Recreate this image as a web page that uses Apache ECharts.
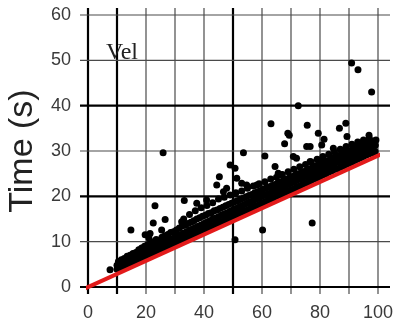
<!DOCTYPE html>
<html>
<head>
<meta charset="utf-8">
<script src="https://cdn.jsdelivr.net/npm/echarts@6/dist/echarts.min.js"></script>
<style>
  html, body { margin: 0; padding: 0; background: #fff; }
  #chart { width: 397px; height: 323px; }
</style>
</head>
<body>
<div id="chart"></div>
<script>
// Axis ranges and tick labels
const xTicks = [0, 20, 40, 60, 80, 100];
const yTicks = [0, 10, 20, 30, 40, 50, 60];
// Grid lines (every 10 units); the heavy ones are drawn thicker
const xGridLines = [0, 10, 20, 30, 40, 50, 60, 70, 80, 90, 100];
const yGridLines = [0, 10, 20, 30, 40, 50, 60];
const heavyX = [0, 10, 50];
const heavyY = [0, 20, 40];

// Measured times: dense band of runs
const bandPoints = [
  [10,3.9],[10,4.8],[10.5,5.6],[11,4.2],[11,5.2],[11.5,6.0],[12,4.5],[12,5.4],[12.5,6.3],
  [13,4.8],[13,5.8],[13.5,6.8],[14,5.1],[14,6.0],[14.5,7.0],[15,5.3],[15,6.3],[15.5,7.4],
  [16,5.6],[16,6.6],[16.5,7.6],[17,5.9],[17,7.0],[17.5,8.2],[18,6.2],[18,7.2],[18.5,8.6],
  [19,6.5],[19,7.5],[19.5,9.0],[20,6.8],[20,7.8],[20.5,9.3],[21,7.1],[21,8.1],[21.5,9.6],[21,10.8],
  [22,7.4],[22,8.4],[22.5,10.0],[23,7.6],[23,8.8],[23.5,10.5],[24,7.9],[24,9.1],[24.5,10.3],
  [25,8.2],[25,9.4],[25.5,11.0],[26,8.5],[26,9.7],[26.5,11.3],[27,8.8],[27,10.0],[27.5,11.6],
  [28,9.1],[28,10.3],[28.5,12.0],[29,9.4],[29,10.6],[29.5,12.2],[30,9.7],[30,11.0],[30.5,12.6],
  [31,10.0],[31,11.3],[31.5,13.0],[32,10.2],[32,11.6],[32.5,13.5],[33,10.5],[33,11.9],[33.5,13.6],[33,15.0],
  [34,10.8],[34,12.2],[34.5,14.0],[35,11.1],[35,12.5],[35.5,14.3],[35,16.0],[36,11.4],[36,12.8],[36.5,14.6],
  [37,11.7],[37,13.1],[37.5,15.0],[37,16.8],[38,12.0],[38,13.4],[38.5,15.3],[39,12.3],[39,13.7],[39.5,15.6],[39,17.5],
  [40,12.6],[40,14.0],[40.5,15.8],[41,12.9],[41,14.3],[41.5,16.2],[41,18.0],[42,13.2],[42,14.6],[42.5,16.4],
  [43,13.5],[43,15.0],[43.5,16.8],[43,18.6],[44,13.8],[44,15.2],[44.5,17.0],[45,14.1],[45,15.5],[45.5,17.3],[45,19.4],
  [46,14.4],[46,15.8],[46.5,17.6],[47,14.7],[47,16.1],[47.5,17.9],[47,19.8],[48,15.0],[48,16.4],[48.5,18.2],
  [49,15.3],[49,16.7],[49.5,18.5],[49,20.3],[50,15.6],[50,17.0],[50.5,18.8],[51,15.9],[51,17.3],[51.5,19.0],[51,20.8],
  [52,16.2],[52,17.6],[52.5,19.3],[53,16.5],[53,17.9],[53.5,19.6],[53,21.2],[54,16.7],[54,18.2],[54.5,19.9],
  [55,17.0],[55,18.5],[55.5,20.2],[55,21.8],[56,17.3],[56,18.8],[56.5,20.4],[57,17.6],[57,19.1],[57.5,20.8],[57,22.3],
  [58,17.9],[58,19.4],[58.5,21.0],[59,18.2],[59,19.7],[59.5,21.3],[59,22.8],[60,18.5],[60,20.0],[60.5,21.6],
  [61,18.8],[61,20.3],[61.5,21.9],[61,23.2],[62,19.1],[62,20.5],[62.5,22.1],[63,19.4],[63,20.8],[63.5,22.4],[63,23.8],
  [64,19.7],[64,21.1],[64.5,22.6],[65,20.0],[65,21.4],[65.5,23.0],[65,24.2],[66,20.3],[66,21.7],[66.5,23.2],
  [67,20.6],[67,22.0],[67.5,23.5],[67,24.8],[68,20.9],[68,22.3],[68.5,23.8],[69,21.2],[69,22.6],[69.5,24.1],[69,25.4],
  [70,21.4],[70,22.9],[70.5,24.4],[71,21.7],[71,23.2],[71.5,24.7],[71,26.0],[72,22.0],[72,23.5],[72.5,25.0],
  [73,22.3],[73,23.8],[73.5,25.2],[73,26.5],[74,22.6],[74,24.1],[74.5,25.5],[75,22.9],[75,24.4],[75.5,25.8],[75,27.0],
  [76,23.2],[76,24.6],[76.5,26.1],[77,23.5],[77,24.9],[77.5,26.4],[77,27.6],[78,23.8],[78,25.2],[78.5,26.7],
  [79,24.1],[79,25.5],[79.5,27.0],[79,28.2],[80,24.4],[80,25.8],[80.5,27.3],[81,24.7],[81,26.1],[81.5,27.6],[81,28.8],
  [82,25.0],[82,26.4],[82.5,27.8],[83,25.3],[83,26.7],[83.5,28.1],[83,29.3],[84,25.6],[84,27.0],[84.5,28.4],
  [85,25.9],[85,27.3],[85.5,28.7],[85,29.8],[86,26.1],[86,27.6],[86.5,29.0],[87,26.4],[87,27.9],[87.5,29.3],[87,30.4],
  [88,26.7],[88,28.1],[88.5,29.6],[89,27.0],[89,28.4],[89.5,29.9],[89,31.0],[90,27.3],[90,28.7],[90.5,30.1],
  [91,27.6],[91,29.0],[91.5,30.4],[91,31.5],[92,27.9],[92,29.3],[92.5,30.7],[93,28.2],[93,29.6],[93.5,31.0],[93,32.0],
  [94,28.5],[94,29.9],[94.5,31.2],[95,28.8],[95,30.2],[95.5,31.5],[95,32.4],[96,29.1],[96,30.5],[96.5,31.8],
  [97,29.4],[97,30.7],[97.5,32.0],[97,32.8],[98,29.6],[98,31.0],[98.5,32.2],[99,29.9],[99,31.2],[99.3,32.4]
];

// Measured times: scattered slower runs
const outlierPoints = [
  [7.6,3.8],[14.8,12.6],[22.5,14.1],[23.1,17.9],[25.4,12.6],[26.6,14.9],[19.7,11.5],[21.4,11.8],
  [32.3,14.4],[33.2,19.1],[25.9,29.6],[37.5,18.5],[40.9,19.2],[44.4,22.5],[45.3,24.3],[46.7,21],
  [47.8,21.8],[49,26.9],[50.7,26.2],[51.3,24],[53,22.9],[54.7,22.5],[58.2,22.5],[53.6,29.6],
  [61,28.9],[50.7,10.4],[60.2,12.6],[63.1,36],[64.5,26.6],[65.6,25.1],[66.8,24.7],[67.8,31.6],
  [68.9,33.9],[69.4,33.5],[70.8,28.8],[71.9,28.4],[72.5,40],[75.6,35.7],[75.4,31],[76.6,31],
  [76.6,27.7],[77.3,14.1],[79.4,33.9],[79.4,28],[80.6,31.3],[81.1,28.4],[81.4,32.6],[84.6,30.6],
  [86.7,35],[88.9,36.1],[89.3,33.2],[88,29.9],[90.9,49.4],[93.1,47.9],[97.8,43],[96.9,33.5],
  [91.5,31],[93.2,30.6],[94.4,31.7],[97.2,31.7],[99,31.3]
];

// Lower-bound reference line
const boundLine = [[-1, -0.3], [106.6, 30.9]];

const chart = echarts.init(document.getElementById('chart'), null, { renderer: 'canvas' });

// Draws a grid line that overshoots the plot area by a few pixels at each end
function gridLineRenderer(vertical) {
  return function (params, api) {
    const v = api.value(0);
    const heavy = (vertical ? heavyX : heavyY).indexOf(v) >= 0;
    let a, b;
    if (vertical) {
      a = api.coord([v, yTicks[yTicks.length - 1]]);
      b = api.coord([v, yTicks[0]]);
      a[1] -= 7; b[1] += 7;
    } else {
      a = api.coord([xTicks[0], v]);
      b = api.coord([xTicks[xTicks.length - 1], v]);
      a[0] -= 8; b[0] += 12;
    }
    return {
      type: 'line',
      shape: { x1: a[0], y1: a[1], x2: b[0], y2: b[1] },
      style: { stroke: heavy ? '#000' : '#4a4a4a', lineWidth: heavy ? 2.2 : 1.2 }
    };
  };
}

const labelFont = { fontFamily: 'Liberation Sans', fontSize: 18, color: '#3a3a3a' };

chart.setOption({
  animation: false,
  backgroundColor: '#fff',
  title: {
    text: 'Vel',
    left: 101, top: 36,
    textStyle: { fontFamily: 'Liberation Serif', fontSize: 24, fontWeight: 'normal', color: '#222' }
  },
  grid: { left: 88, right: 19, top: 15, bottom: 36, containLabel: false, outerBoundsMode: 'none' },
  xAxis: {
    type: 'value', min: 0, max: 100, interval: 20,
    axisLine: { show: false }, axisTick: { show: false }, splitLine: { show: false },
    axisLabel: Object.assign({ margin: 17 }, labelFont)
  },
  yAxis: {
    type: 'value', min: 0, max: 60, interval: 10,
    name: 'Time (s)', nameLocation: 'middle', nameRotate: 90, nameGap: 40,
    nameTextStyle: { fontFamily: 'Liberation Sans', fontSize: 34, color: '#222' },
    axisLine: { show: false }, axisTick: { show: false }, splitLine: { show: false },
    axisLabel: Object.assign({ margin: 17 }, labelFont)
  },
  series: [
    {
      type: 'custom', clip: false, silent: true, z: 1,
      renderItem: gridLineRenderer(true),
      data: xGridLines.map(v => [v])
    },
    {
      type: 'custom', clip: false, silent: true, z: 1,
      renderItem: gridLineRenderer(false),
      data: yGridLines.map(v => [v])
    },
    {
      type: 'scatter', z: 3, symbolSize: 7,
      itemStyle: { color: '#000', opacity: 1 },
      data: bandPoints.concat(outlierPoints)
    },
    {
      type: 'line', z: 4, clip: false, symbol: 'none',
      lineStyle: { color: '#e31b1b', width: 4 },
      data: boundLine
    }
  ]
});
</script>
</body>
</html>
